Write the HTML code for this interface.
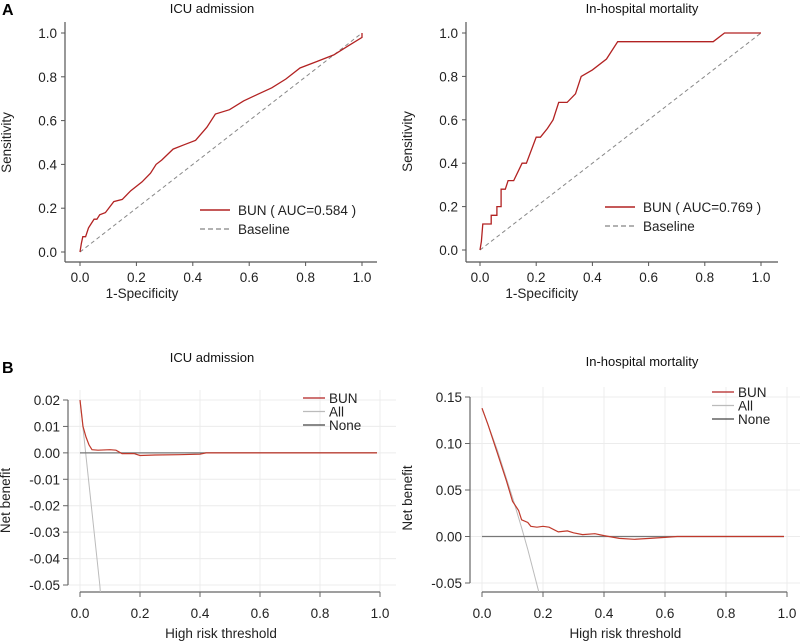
<!DOCTYPE html>
<html><head><meta charset="utf-8"><style>
body{margin:0;background:#fff;}
svg{display:block;font-family:"Liberation Sans",sans-serif;}
</style></head><body>
<svg id="s" width="800" height="644"></svg>
<script>
const rocTicks=["0.0","0.2","0.4","0.6","0.8","1.0"];
const roc1X=[0,0.005,0.01,0.02,0.03,0.04,0.05,0.06,0.07,0.09,0.12,0.15,0.18,0.22,0.25,0.27,0.29,0.33,0.37,0.41,0.45,0.48,0.53,0.58,0.63,0.68,0.73,0.78,0.84,0.9,0.95,1,1];
const roc1Y=[0,0.04,0.07,0.07,0.11,0.13,0.15,0.15,0.17,0.18,0.23,0.24,0.28,0.32,0.36,0.40,0.42,0.47,0.49,0.51,0.57,0.63,0.65,0.69,0.72,0.75,0.79,0.84,0.87,0.90,0.94,0.98,1];
const roc2X=[0,0.005,0.01,0.04,0.04,0.06,0.06,0.075,0.075,0.09,0.1,0.12,0.15,0.165,0.2,0.215,0.24,0.26,0.28,0.31,0.34,0.36,0.4,0.45,0.49,0.83,0.87,1];
const roc2Y=[0,0.04,0.12,0.12,0.16,0.16,0.2,0.2,0.28,0.28,0.32,0.32,0.4,0.4,0.52,0.52,0.56,0.6,0.68,0.68,0.72,0.8,0.83,0.88,0.96,0.96,1,1];
const dcaXTicks=["0.0","0.2","0.4","0.6","0.8","1.0"];
const dca1YTicks=[0.02,0.01,0,-0.01,-0.02,-0.03,-0.04,-0.05];
const dca1BunX=[0,0.01,0.02,0.03,0.04,0.06,0.1,0.12,0.14,0.18,0.2,0.25,0.33,0.4,0.42,0.99];
const dca1BunY=[0.02,0.01,0.006,0.003,0.0012,0.001,0.0012,0.001,-0.0003,-0.0003,-0.001,-0.0008,-0.0007,-0.0005,0,0];
const dca1AllX=[0,0.066,0.08];
const dca1AllY=[0.02,-0.05,-0.07];
const dca2YTicks=[0.15,0.10,0.05,0,-0.05];
const dca2BunX=[0,0.02,0.05,0.08,0.1,0.12,0.13,0.15,0.16,0.18,0.2,0.22,0.25,0.28,0.3,0.33,0.37,0.4,0.45,0.5,0.55,0.6,0.64,0.99];
const dca2BunY=[0.138,0.12,0.09,0.06,0.038,0.028,0.018,0.015,0.011,0.01,0.011,0.01,0.005,0.006,0.004,0.002,0.003,0.001,-0.002,-0.003,-0.002,-0.001,0,0];
const dca2AllX=[0,0.05,0.1,0.13,0.15,0.185,0.2];
const dca2AllY=[0.138,0.093,0.042,0.0095,-0.014,-0.058,-0.08];
const noneX=[0,0.99];
const noneY=[0,0];

const svg=document.getElementById('s');
const NS='http://www.w3.org/2000/svg';
function mk(tag,attrs,parent,text){const e=document.createElementNS(NS,tag);for(const k in attrs)e.setAttribute(k,attrs[k]);if(text!==undefined)e.textContent=text;(parent||svg).appendChild(e);return e;}
function lin(d0,d1,r0,r1){return v=>r0+(v-d0)*(r1-r0)/(d1-d0);}
function pathD(xs,ys,sx,sy){return xs.map((x,i)=>(i?'L':'M')+sx(x).toFixed(1)+','+sy(ys[i]).toFixed(1)).join('');}
let clipN=0;
function clip(x0,y0,x1,y1){const id='c'+(clipN++);const cp=mk('clipPath',{id:id});mk('rect',{x:x0,y:y0,width:x1-x0,height:y1-y0},cp);return 'url(#'+id+')';}

function roc(ox,x0,x1,y0,y1,xs,ys,auc,lx,ly,title,tx){
  const sx=lin(0,1,x0,x1), sy=lin(0,1,y0,y1);
  const g=mk('g',{});
  
  let t=mk('text',{x:tx,y:13,'text-anchor':'middle','font-size':13,fill:'#111'},g,title);
  
  mk('line',{x1:ox,y1:22,x2:ox,y2:262,stroke:'#555','stroke-width':1.2},g);
  mk('line',{x1:ox,y1:262,x2:ox+312,y2:262,stroke:'#555','stroke-width':1.2},g);
  rocTicks.forEach((l,i)=>{const v=i/5;
    mk('line',{x1:ox-4,y1:sy(v),x2:ox,y2:sy(v),stroke:'#555'},g);
    let a=mk('text',{x:ox-8,y:sy(v)+5,'text-anchor':'end','font-size':13.5,fill:'#222'},g,l);
    
    mk('line',{x1:sx(v),y1:262,x2:sx(v),y2:266,stroke:'#555'},g);
    let b=mk('text',{x:sx(v),y:282,'text-anchor':'middle','font-size':13.5,fill:'#222'},g,l);
    
  });
  let xt=mk('text',{x:sx(0.22),y:298,'text-anchor':'middle','font-size':13.5,fill:'#222'},g,'1-Specificity');
  
  let yt=mk('text',{x:0,y:0,'text-anchor':'middle','font-size':13.5,fill:'#222',transform:'translate('+(ox-54)+','+(sy(0.5))+') rotate(-90)'},g,'Sensitivity');
  
  let bl=mk('path',{d:pathD([0,1],[0,1],sx,sy),stroke:'#888','stroke-width':1,'stroke-dasharray':'4,3',fill:'none'},g);
  
  let rl=mk('path',{d:pathD(xs,ys,sx,sy),stroke:'#b22222','stroke-width':1.3,fill:'none'},g);
  
  mk('line',{x1:lx,y1:ly,x2:lx+30,y2:ly,stroke:'#b22222','stroke-width':1.6},g);
  let l1=mk('text',{x:lx+38,y:ly+5,'font-size':13.5,fill:'#222'},g,'BUN ( AUC='+auc+' )');
  
  mk('line',{x1:lx,y1:ly+19,x2:lx+30,y2:ly+19,stroke:'#999','stroke-width':1.4,'stroke-dasharray':'5,3'},g);
  let l2=mk('text',{x:lx+38,y:ly+24,'font-size':13.5,fill:'#222'},g,'Baseline');
  
}
roc(65,80,362,252,33,roc1X,roc1Y,'0.584',200,210,'ICU admission',212);
roc(466,480,761,250,33,roc2X,roc2Y,'0.769',605,207,'In-hospital mortality',642);

function dca(oy0,ax,x0,x1,ytk,yTop,yBot,bx,by,ax2,ay2,fmt,lx,ly,title,tx,ty){
  const sx=lin(0,1,x0,x1), sy=lin(ytk[0],ytk[ytk.length-1],yTop,yBot);
  const g=mk('g',{});
  
  let t=mk('text',{x:tx,y:ty,'text-anchor':'middle','font-size':13,fill:'#111'},g,title);
  
  const right=x1+16;
  dcaXTicks.forEach((l,i)=>{const v=i/5;mk('line',{x1:sx(v),y1:yTop-10,x2:sx(v),y2:592,stroke:'#ececec'},g);});
  ytk.forEach(v=>mk('line',{x1:ax,y1:sy(v),x2:right,y2:sy(v),stroke:'#ececec'},g));
  mk('line',{x1:ax,y1:yTop,x2:ax,y2:yBot,stroke:'#666','stroke-width':1.2},g);
  mk('line',{x1:x0,y1:592,x2:x1,y2:592,stroke:'#666','stroke-width':1.2},g);
  ytk.forEach(v=>{mk('line',{x1:ax-5,y1:sy(v),x2:ax,y2:sy(v),stroke:'#666'},g);
    let a=mk('text',{x:ax-8,y:sy(v)+5,'text-anchor':'end','font-size':13.5,fill:'#222'},g,v.toFixed(fmt));
    });
  dcaXTicks.forEach((l,i)=>{const v=i/5;mk('line',{x1:sx(v),y1:592,x2:sx(v),y2:597,stroke:'#666'},g);
    let b=mk('text',{x:sx(v),y:618,'text-anchor':'middle','font-size':13.5,fill:'#222'},g,l);
    });
  let xt=mk('text',{x:sx(0.47),y:638,'text-anchor':'middle','font-size':13.5,fill:'#222'},g,'High risk threshold');
  
  let yt=mk('text',{x:0,y:0,'text-anchor':'middle','font-size':13.5,fill:'#222',transform:'translate('+(ax-58)+','+((yTop+yBot)/2+8)+') rotate(-90)'},g,'Net benefit');
  
  const cp=clip(x0-2,yTop-15,right,592);
  let al=mk('path',{d:pathD(ax2,ay2,sx,sy),stroke:'#bbb','stroke-width':1,fill:'none','clip-path':cp},g);
  
  let nl=mk('path',{d:pathD(noneX,noneY,sx,sy),stroke:'#777','stroke-width':1.2,fill:'none'},g);
  
  let bl=mk('path',{d:pathD(bx,by,sx,sy),stroke:'#c0392b','stroke-width':1.2,fill:'none','clip-path':cp},g);
  
  const cols=['#b22222','#bbb','#444'], names=['BUN','All','None'];
  names.forEach((n,i)=>{mk('line',{x1:lx,y1:ly+i*13.5,x2:lx+22,y2:ly+i*13.5,stroke:cols[i],'stroke-width':1.3},g);
    let e=mk('text',{x:lx+26,y:ly+i*13.5+5,'font-size':13.5,fill:'#222'},g,n);
    });
}
dca(330,68,80,380,dca1YTicks,400,585,dca1BunX,dca1BunY,dca1AllX,dca1AllY,2,303,398,'ICU admission',212,362);
dca(330,470,482,787,dca2YTicks,397,583,dca2BunX,dca2BunY,dca2AllX,dca2AllY,2,712,392,'In-hospital mortality',642,366);

let A=mk('text',{x:2,y:15,'font-size':16,'font-weight':'bold',fill:'#000'},svg,'A');

let B=mk('text',{x:2,y:373,'font-size':16,'font-weight':'bold',fill:'#000'},svg,'B');

</script>
</body></html>
